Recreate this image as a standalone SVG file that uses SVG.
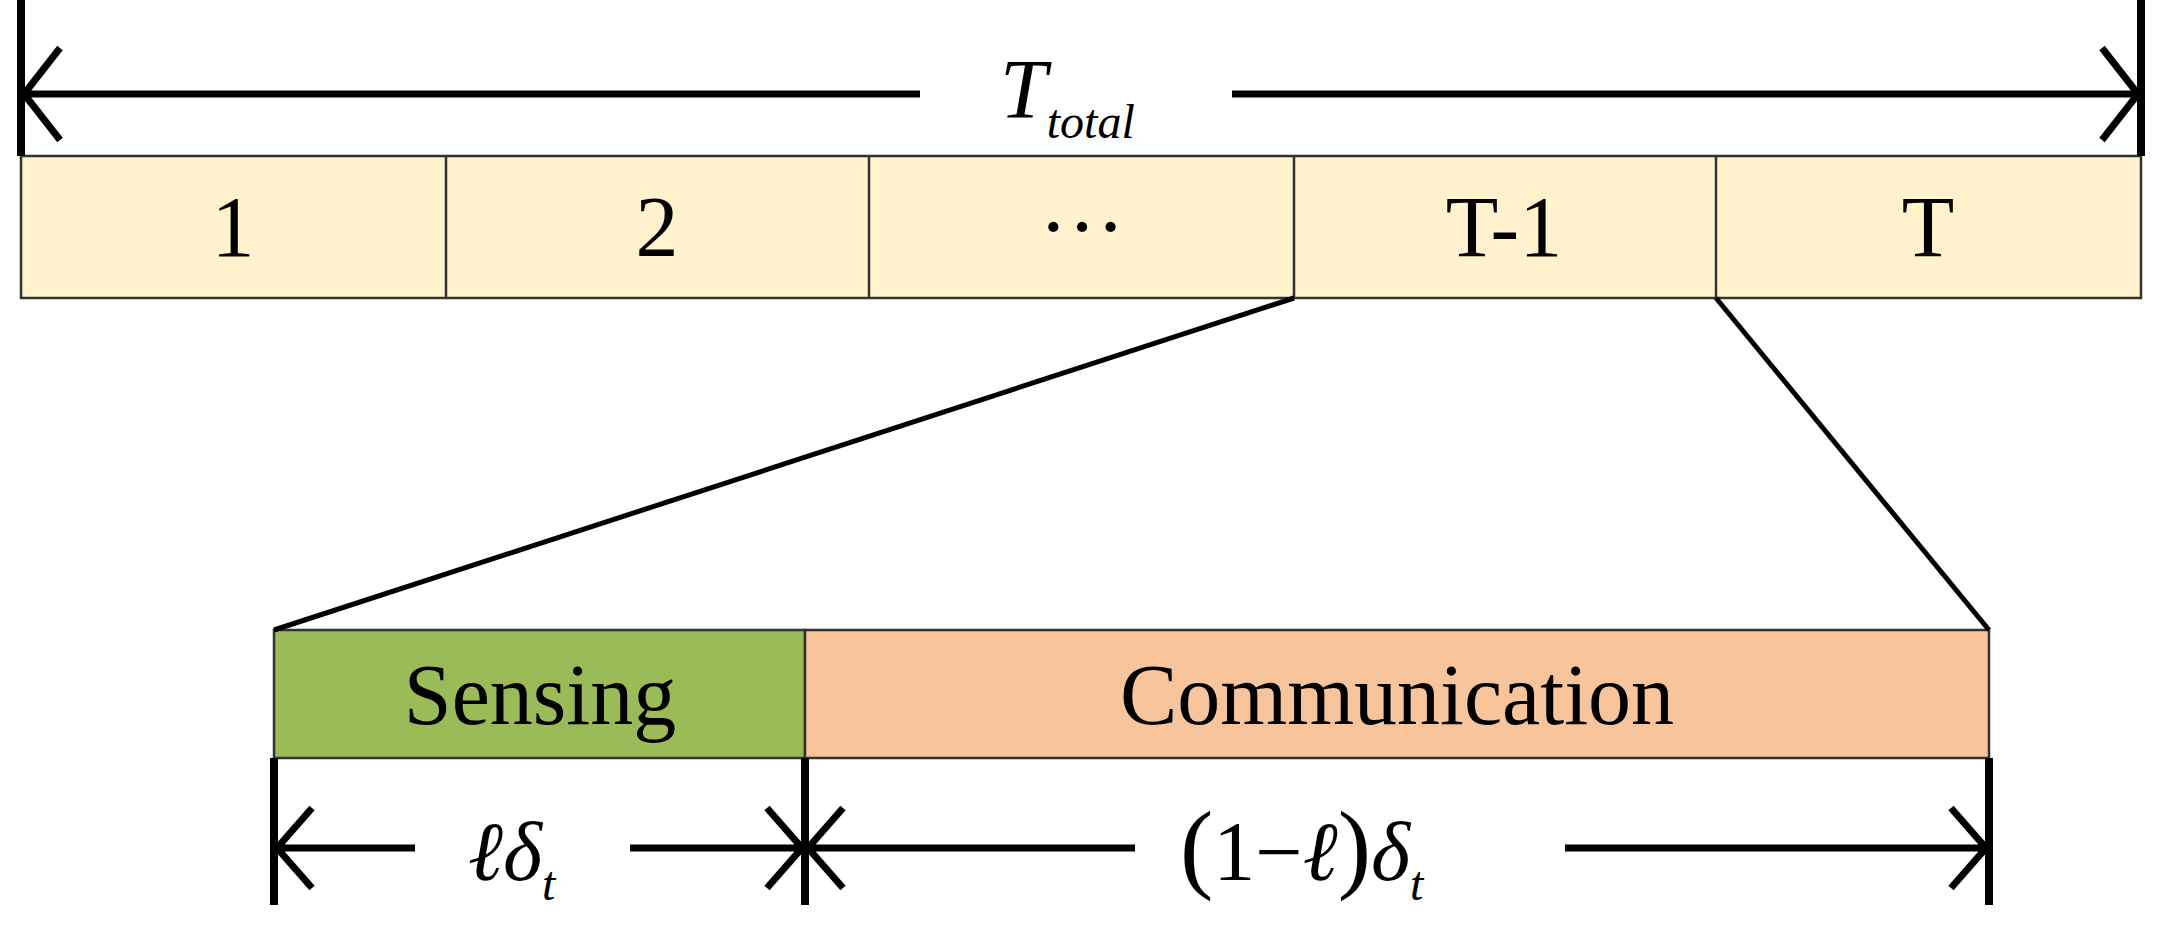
<svg xmlns="http://www.w3.org/2000/svg" width="2163" height="937" viewBox="0 0 2163 937">
<style>
.t{font-family:"Liberation Serif",serif;fill:#000}
.n{font-size:86px;text-anchor:middle}
.ax{stroke:#000;stroke-width:7;fill:none}
.tk{stroke:#000;stroke-width:8}
.box{stroke:#333;stroke-width:2.5}
</style>
<rect width="2163" height="937" fill="#fff"/>
<g id="slots">
<rect class="box" x="21" y="156" width="2120" height="142" fill="#FFF2CC"/>
<line class="box" x1="446" y1="156" x2="446" y2="298"/>
<line class="box" x1="869" y1="156" x2="869" y2="298"/>
<line class="box" x1="1294" y1="156" x2="1294" y2="298"/>
<line class="box" x1="1716" y1="156" x2="1716" y2="298"/>
<text class="t n" x="233" y="256">1</text>
<text class="t n" x="657" y="256">2</text>
<text class="t n" x="1082" y="256">···</text>
<text class="t n" x="1504" y="256">T-1</text>
<text class="t n" x="1928" y="256">T</text>
</g>
<g id="frame">
<rect class="box" x="274" y="630" width="531" height="128" fill="#9BBB59"/>
<rect class="box" x="805" y="630" width="1184" height="128" fill="#F8C49C"/>
<text class="t n" x="540" y="724">Sensing</text>
<text class="t n" x="1397" y="724">Communication</text>
</g>
<g id="connectors">
<line x1="1294" y1="298" x2="274" y2="630" stroke="#000" stroke-width="5"/>
<line x1="1716" y1="298" x2="1989" y2="630" stroke="#000" stroke-width="5"/>
<line class="tk" x1="21" y1="0" x2="21" y2="156"/>
<line class="tk" x1="2141" y1="0" x2="2141" y2="156"/>
<path class="ax" d="M24 94H920M1232 94H2138M60 48L24 94L60 140M2102 48L2138 94L2102 140"/>
<line class="tk" x1="274" y1="758" x2="274" y2="905"/>
<line class="tk" x1="805" y1="758" x2="805" y2="905"/>
<line class="tk" x1="1989" y1="758" x2="1989" y2="905"/>
<path class="ax" d="M277 848H415M630 848H802M312 808L277 848L312 888M767 808L802 848L767 888"/>
<path class="ax" d="M808 848H1135M1565 848H1986M843 808L808 848L843 888M1951 808L1986 848L1951 888"/>
</g>
<g id="labels">
<text class="t" x="1000" y="118" font-size="84" font-style="italic">T<tspan font-size="48" dy="20">total</tspan></text>
<text class="t" x="468" y="880" font-size="84" font-style="italic">ℓδ<tspan font-size="48" dy="20">t</tspan></text>
<text class="t" x="1180" y="880" font-size="84"><tspan font-size="100">(</tspan>1−<tspan font-style="italic">ℓ</tspan><tspan font-size="100">)</tspan><tspan font-style="italic">δ</tspan><tspan font-size="48" font-style="italic" dy="20">t</tspan></text>
</g>
</svg>
